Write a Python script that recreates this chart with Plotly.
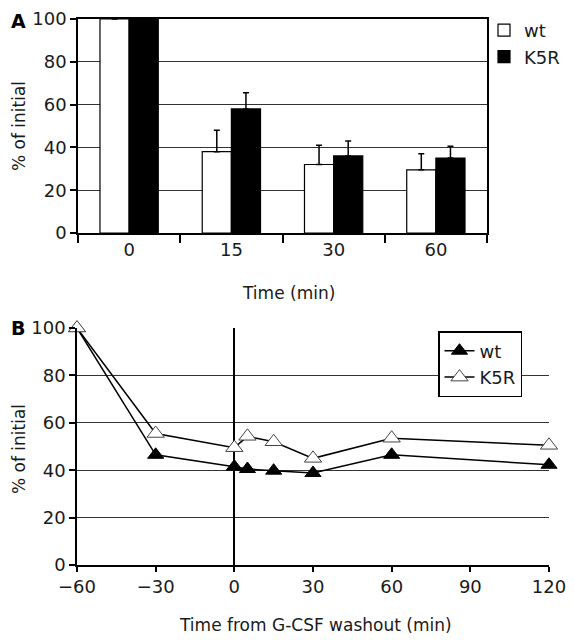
import plotly.graph_objects as go

# Panel A data
times_a = ["0", "15", "30", "60"]
wt_a = [100, 38, 32, 29.5]
wt_a_err = [0, 10, 9, 7.5]
k5r_a = [100, 58, 36, 35]
k5r_a_err = [0, 7.5, 7, 5.5]

# Panel B data
times_b = [-60, -30, 0, 5, 15, 30, 60, 120]
wt_b = [100, 46.5, 41.5, 40.5, 39.8, 38.8, 46.5, 42.3]
k5r_b = [100, 55.5, 49.5, 54.3, 52, 45, 53.5, 50.5]

# page has an 8px body margin; the figure is sized to fill the rest of the window
OFF = 8
W, H = 574 - OFF, 640 - OFF
def px(sx): return (sx - OFF) / W
def py(sy): return 1 - (sy - OFF) / H
def xd(a, b): return [px(a), px(b)]
def yd(top, bottom): return [py(bottom), py(top)]

FONT = "DejaVu Sans, Verdana, sans-serif"
TXT = "#1a1a1a"

fig = go.Figure()

fig.add_trace(go.Bar(x=times_a, y=wt_a, name="wt", xaxis="x", yaxis="y",
                     marker=dict(color="white", line=dict(color="black", width=1.2)),
                     error_y=dict(type="data", symmetric=False, array=wt_a_err,
                                  arrayminus=[0]*4, color="black", thickness=1.5, width=3),
                     legend="legend"))
fig.add_trace(go.Bar(x=times_a, y=k5r_a, name="K5R", xaxis="x", yaxis="y",
                     marker=dict(color="black", line=dict(color="black", width=1.2)),
                     error_y=dict(type="data", symmetric=False, array=k5r_a_err,
                                  arrayminus=[0]*4, color="black", thickness=1.5, width=3),
                     legend="legend"))

fig.add_trace(go.Scatter(x=times_b, y=wt_b, name="wt", xaxis="x2", yaxis="y2",
                         mode="lines+markers", cliponaxis=False,
                         line=dict(color="black", width=1.5),
                         marker=dict(symbol="triangle-up", size=14, color="black",
                                     line=dict(color="black", width=1)),
                         legend="legend2"))
fig.add_trace(go.Scatter(x=times_b, y=k5r_b, name="K5R", xaxis="x2", yaxis="y2",
                         mode="lines+markers", cliponaxis=False,
                         line=dict(color="black", width=1.5),
                         marker=dict(symbol="triangle-up", size=15, color="white",
                                     line=dict(color="#444", width=1)),
                         legend="legend2"))

tickfont = dict(family=FONT, size=18, color=TXT)

fig.update_layout(
    width=W, height=H, margin=dict(l=0, r=0, t=0, b=0, autoexpand=False),
    paper_bgcolor="white", plot_bgcolor="white",
    font=dict(family=FONT, color=TXT),
    barmode="group", bargap=0.43, bargroupgap=0,
    showlegend=True,
    xaxis=dict(domain=xd(78, 487), anchor="y", type="category", automargin=False,
               tickson="boundaries", ticks="outside", ticklen=8, tickwidth=1.5,
               tickcolor="black", showline=True, linecolor="black", linewidth=1.5,
               mirror=True, showgrid=False, tickfont=tickfont, fixedrange=True),
    yaxis=dict(domain=yd(19, 233), anchor="x", range=[0, 100], dtick=20, automargin=False,
               ticks="outside", ticklen=6, tickwidth=1.5, tickcolor="black",
               showline=True, linecolor="black", linewidth=1.5, mirror=True,
               showgrid=True, gridcolor="#333", gridwidth=1.2,
               tickfont=tickfont, zeroline=False, ticklabeloverflow="allow"),
    xaxis2=dict(domain=xd(77, 549), anchor="y2", range=[-60, 120], dtick=30, automargin=False,
                ticks="outside", ticklen=5, tickwidth=1.5, tickcolor="black",
                showline=True, linecolor="black", linewidth=1.5,
                showgrid=False, zeroline=True, zerolinecolor="black", zerolinewidth=2,
                tickfont=tickfont, ticklabeloverflow="allow"),
    yaxis2=dict(domain=yd(328, 565), anchor="x2", range=[0, 100], dtick=20, automargin=False,
                ticks="outside", ticklen=6, tickwidth=1.5, tickcolor="black",
                showline=True, linecolor="black", linewidth=1.5,
                showgrid=True, gridcolor="#333", gridwidth=1.2, zeroline=False,
                tickfont=tickfont, ticklabeloverflow="allow"),
    legend=dict(x=px(484), y=py(12), xanchor="left", yanchor="top",
                font=dict(family=FONT, size=18, color=TXT), bgcolor="rgba(0,0,0,0)",
                borderwidth=0, tracegroupgap=10, itemwidth=30),
    legend2=dict(x=px(438), y=py(331), xanchor="left", yanchor="top",
                 font=dict(family=FONT, size=18, color=TXT), bgcolor="white",
                 bordercolor="black", borderwidth=1.5, itemwidth=30),
    annotations=[
        dict(text="<b>A</b>", x=px(9), y=1.0, xref="paper", yref="paper",
             xanchor="left", yanchor="top", showarrow=False,
             font=dict(family=FONT, size=19, color="black")),
        dict(text="<b>B</b>", x=px(9), y=py(328), xref="paper", yref="paper",
             xanchor="left", yanchor="middle", showarrow=False,
             font=dict(family=FONT, size=19, color="black")),
        dict(text="% of initial", x=px(19), y=py(126), xref="paper", yref="paper",
             textangle=-90, showarrow=False, xanchor="center", yanchor="middle",
             font=dict(family=FONT, size=17, color=TXT)),
        dict(text="% of initial", x=px(19), y=py(449), xref="paper", yref="paper",
             textangle=-90, showarrow=False, xanchor="center", yanchor="middle",
             font=dict(family=FONT, size=17, color=TXT)),
        dict(text="Time (min)", x=px(288), y=py(293), xref="paper", yref="paper",
             showarrow=False, xanchor="center", yanchor="middle",
             font=dict(family=FONT, size=17, color=TXT)),
        dict(text="Time from G-CSF washout (min)", x=px(315), y=py(625),
             xref="paper", yref="paper", showarrow=False, xanchor="center",
             yanchor="middle", font=dict(family=FONT, size=17, color=TXT)),
    ],
)

fig.write_html("out.html")
